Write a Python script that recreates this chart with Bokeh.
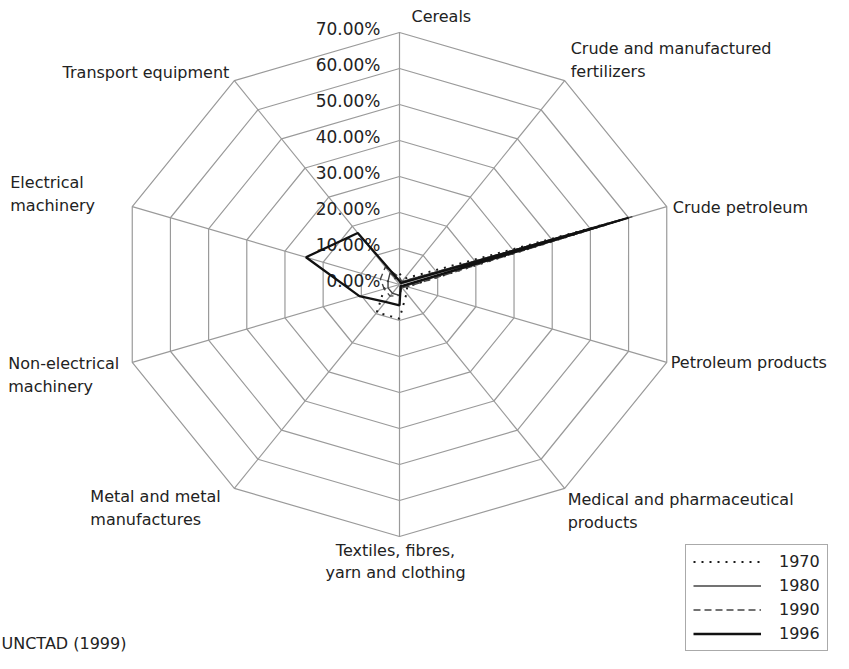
import numpy as np
from bokeh.plotting import figure
from bokeh.models import Range1d, Legend, LegendItem, Label
from bokeh.core.properties import value
from bokeh.embed import file_html
from bokeh.resources import INLINE

# ---------------- data ----------------
categories = [
    "Cereals",
    "Crude and manufactured\nfertilizers",
    "Crude petroleum",
    "Petroleum products",
    "Medical and pharmaceutical\nproducts",
    "Textiles, fibres,\nyarn and clothing",
    "Metal and metal\nmanufactures",
    "Non-electrical\nmachinery",
    "Electrical\nmachinery",
    "Transport equipment",
]
ticks = [0, 10, 20, 30, 40, 50, 60, 70]
tick_labels = ["0.00%", "10.00%", "20.00%", "30.00%", "40.00%", "50.00%", "60.00%", "70.00%"]

years = ["1970", "1980", "1990", "1996"]
s1970 = [3.0, 2.0, 58.0, 2.0, 3.0, 9.5, 9.6, 4.0, 3.0, 2.0]
s1980 = [1.0, 1.0, 61.0, 1.5, 1.0, 3.0, 3.0, 3.0, 3.0, 4.0]
s1990 = [2.0, 1.0, 59.0, 2.0, 1.0, 3.0, 4.0, 4.0, 5.0, 6.0]
s1996 = [1.0, 0.5, 60.0, 1.0, 0.5, 5.8, 6.0, 10.5, 24.5, 17.7]

source_text = "UNCTAD (1999)"

# ---------------- layout ----------------
W, H = 833, 653
cx, cy = 399, 284            # centre in canvas pixels
px_x = 281 / 70.0            # horizontal pixels per percent
px_y = 252 / 70.0            # vertical pixels per percent

p = figure(width=W, height=H, output_backend="svg", toolbar_location=None,
           x_range=Range1d(-cx / px_x, (W - cx) / px_x),
           y_range=Range1d(-(H - cy) / px_y, cy / px_y),
           x_axis_location=None, y_axis_location=None, min_border=0)
p.grid.visible = False
p.outline_line_color = None
p.background_fill_color = "white"
p.border_fill_color = "white"

n = len(categories)
theta = 2 * np.pi * np.arange(n) / n
sx, sy = np.sin(theta), np.cos(theta)
rmax = ticks[-1]

grid_col = "#9a9a9a"
# rings
ring_xs, ring_ys = [], []
for t in ticks[1:]:
    ring_xs.append(list(np.append(t * sx, t * sx[0])))
    ring_ys.append(list(np.append(t * sy, t * sy[0])))
p.multi_line(ring_xs, ring_ys, line_color=grid_col, line_width=1.2)
# spokes
p.multi_line([[0, rmax * a] for a in sx], [[0, rmax * b] for b in sy],
             line_color=grid_col, line_width=1.2)

FONT = value("DejaVu Sans")

# tick labels
for t, lab in zip(ticks, tick_labels):
    p.text(x=[0], y=[t], text=[lab], text_font=FONT, text_font_size="17px",
           text_color="#222222", text_align="right", text_baseline="middle",
           x_offset=-19, y_offset=-3.5)

# category labels: (x_offset, y_offset, align, baseline)
lab_style = [
    (12, -16, "left", "middle"),
    (6, 0, "left", "bottom"),
    (6, 1, "left", "middle"),
    (4, 0, "left", "middle"),
    (3, 2, "left", "top"),
    (-4, 4, "center", "top"),
    (-144, -1, "left", "top"),
    (-124, -8, "left", "top"),
    (-122, 8, "left", "bottom"),
    (-5, -8, "right", "middle"),
]
for i, (cat, st) in enumerate(zip(categories, lab_style)):
    p.text(x=[rmax * sx[i]], y=[rmax * sy[i]], text=[cat], text_font=FONT,
           text_font_size="16px", text_color="#222222",
           x_offset=st[0], y_offset=st[1], text_align=st[2], text_baseline=st[3],
           text_line_height=1.2)

# series
def closed(vals):
    v = np.array(vals)
    xs = v * sx
    ys = v * sy
    return list(np.append(xs, xs[0])), list(np.append(ys, ys[0]))

styles = {
    "1970": dict(line_color="#1a1a1a", line_width=2.0, line_dash="2 6"),
    "1980": dict(line_color="#444444", line_width=1.4),
    "1990": dict(line_color="#444444", line_width=1.4, line_dash="7 4"),
    "1996": dict(line_color="#111111", line_width=2.3),
}
renderers = {}
for yr, vals in zip(years, [s1970, s1980, s1990, s1996]):
    xs, ys = closed(vals)
    renderers[yr] = p.line(xs, ys, **styles[yr])

legend = Legend(items=[LegendItem(label=yr, renderers=[renderers[yr]]) for yr in years],
                location=(685, 2), orientation="vertical")
legend.label_text_font = "DejaVu Sans"
legend.label_text_font_size = "16px"
legend.label_text_color = "#222222"
legend.glyph_width = 68
legend.glyph_height = 19
legend.label_height = 19
legend.label_standoff = 18
legend.spacing = 5
legend.padding = 7
legend.margin = 0
legend.border_line_color = "#555555"
legend.border_line_width = 1
legend.background_fill_alpha = 1
p.add_layout(legend)

src = Label(x=1, y=10, x_units="screen", y_units="screen", text=source_text,
            text_font="DejaVu Sans", text_font_size="16px", text_color="#222222",
            text_align="left", text_baseline="middle")
p.add_layout(src)

open("out.html", "w").write(file_html(p, INLINE))
